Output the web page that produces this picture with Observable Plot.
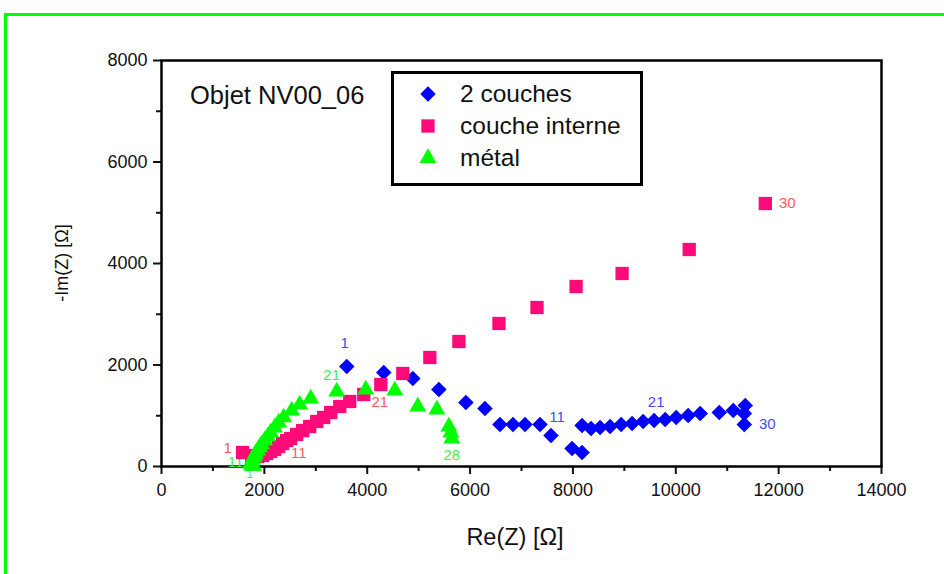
<!DOCTYPE html>
<html>
<head>
<meta charset="utf-8">
<script src="https://cdn.jsdelivr.net/npm/d3@7"></script>
<script src="https://cdn.jsdelivr.net/npm/@observablehq/plot@0.6"></script>
<style>
  html, body { margin: 0; padding: 0; background: #fff; }
  #wrap { position: relative; width: 944px; height: 574px; overflow: hidden; font-family: "Liberation Sans", Arial, sans-serif; }
  #border { position: absolute; left: 4px; top: 13px; width: 1000px; height: 700px; border-top: 3px solid #00ff00; border-left: 3px solid #00ff00; }
  .ann { position: absolute; color: #111; white-space: nowrap; }
  #legend { position: absolute; left: 391px; top: 71px; width: 246px; height: 109px; border: 3px solid #000; background: #fff; }
  .row { position: absolute; left: 0; height: 30px; display: flex; align-items: center; }
  .row svg { margin-left: 23px; margin-right: 21px; }
  .row span { font-size: 24.5px; color: #111; }
</style>
</head>
<body>
<div id="wrap">
  <div id="border"></div>
  <div id="chart"></div>
  <div class="ann" id="objet" style="left:190px; top:81px; font-size:25.5px;">Objet NV00_06</div>
  <div id="legend"></div>
  <div class="ann" id="xtitle" style="left:0; width:1030px; text-align:center; top:524px; font-size:23.5px;">Re(Z) [Ω]</div>
  <div class="ann" id="ytitle" style="left:62px; top:263px; font-size:18px; transform: translate(-50%,-50%) rotate(-90deg);">-Im(Z) [Ω]</div>
</div>
<script>
// ---- data ----
const seriesNames = ["2 couches", "couche interne", "métal"];
const seriesColors = ["#0000ff", "#ff0a78", "#00ff00"];
const labelColors = ["#4a4aff", "#ff5a5a", "#44ee44"];

const blueX = [3602, 4322, 4887, 5393, 5919, 6289, 6581, 6834, 7068, 7360,
               7574, 7983, 8178, 8178, 8353, 8528, 8723, 8937, 9151, 9365,
               9579, 9794, 10008, 10241, 10475, 10845, 11118, 11351, 11332, 11332];
const blueY = [1970, 1852, 1734, 1517, 1261, 1143, 828, 828, 828, 828,
               611, 355, 276, 808, 749, 768, 788, 828, 847, 887,
               906, 926, 966, 1005, 1044, 1064, 1103, 1202, 1044, 828];

const pinkX = [1577, 1752, 1869, 1967, 2044, 2122, 2200, 2278, 2356, 2434,
               2512, 2628, 2745, 2882, 3018, 3154, 3290, 3466, 3660, 3933,
               4264, 4692, 5218, 5783, 6562, 7301, 8061, 8956, 10261, 11741];
const pinkY = [276, 217, 197, 217, 256, 296, 335, 394, 453, 512,
               552, 631, 709, 788, 887, 966, 1064, 1182, 1281, 1419,
               1616, 1833, 2148, 2463, 2818, 3133, 3547, 3803, 4276, 5182];

const greenX = [1791, 1752, 1733, 1752, 1772, 1791, 1811, 1830, 1869, 1908,
                1947, 2005, 2064, 2122, 2200, 2278, 2375, 2531, 2687, 2901,
                3407, 3972, 4537, 4984, 5354, 5588, 5627, 5646];
const greenY = [10, 20, 59, 99, 138, 177, 217, 256, 315, 374,
                433, 512, 591, 670, 768, 867, 966, 1103, 1222, 1340,
                1478, 1517, 1498, 1182, 1123, 788, 670, 552];

const xTicks = [0, 2000, 4000, 6000, 8000, 10000, 12000, 14000];
const xMinor = [1000, 3000, 5000, 7000, 9000, 11000, 13000];
const yTicks = [0, 2000, 4000, 6000, 8000];
const yMinor = [1000, 3000, 5000, 7000];

// ---- build tables ----
const toRows = (xs, ys) => xs.map((x, i) => ({x, y: ys[i], n: i + 1}));
const blue = toRows(blueX, blueY);
const pink = toRows(pinkX, pinkY);
const green = toRows(greenX, greenY);
const pick = (rows, n) => rows.filter(d => d.n === n);

function lbl(rows, n, color, dx, dy, fs = 15) {
  return Plot.text(pick(rows, n), {x: "x", y: "y", text: d => String(d.n), fill: color,
    dx, dy, fontSize: fs, textAnchor: "middle"});
}

const chart = Plot.plot({
  width: 944, height: 574,
  marginLeft: 161, marginRight: 63, marginTop: 60, marginBottom: 108,
  style: {fontFamily: "'Liberation Sans', Arial, sans-serif", background: "transparent", color: "#111"},
  x: {domain: [0, 14000]},
  y: {domain: [0, 8000]},
  marks: [
    Plot.axisX({ticks: xTicks, tickFormat: "d", tickSize: 8, tickPadding: 9, strokeWidth: 2, fontSize: 18, label: null}),
    Plot.axisX({ticks: xMinor, tickFormat: () => "", tickSize: 5, strokeWidth: 2, label: null}),
    Plot.axisY({ticks: yTicks, tickFormat: "d", tickSize: 8, tickPadding: 6, strokeWidth: 2, fontSize: 18, label: null}),
    Plot.axisY({ticks: yMinor, tickFormat: () => "", tickSize: 5, strokeWidth: 2, label: null}),
    Plot.frame({stroke: "#000", strokeWidth: 2.5}),
    lbl(blue, 1, labelColors[0], -2, -23),
    lbl(blue, 11, labelColors[0], 6, -18),
    lbl(blue, 21, labelColors[0], 2, -18),
    lbl(blue, 30, labelColors[0], 23, 0),
    lbl(pink, 1, labelColors[1], -15, -4),
    lbl(pink, 11, labelColors[1], 8, 15),
    lbl(pink, 21, labelColors[1], -1, 18),
    lbl(pink, 30, labelColors[1], 22, 0),
    lbl(green, 1, labelColors[2], -4, 8, 12),
    lbl(green, 11, labelColors[2], -26, 18),
    lbl(green, 21, labelColors[2], -5, -16),
    lbl(green, 28, labelColors[2], 0, 17),
    Plot.dot(blue, {x: "x", y: "y", symbol: "diamond2", r: 7, fill: seriesColors[0]}),
    Plot.dot(pink, {x: "x", y: "y", symbol: "square", r: 7.5, fill: seriesColors[1]}),
    Plot.dot(green, {x: "x", y: "y", symbol: "triangle", r: 6.3, fill: seriesColors[2]})
  ]
});
document.getElementById("chart").appendChild(chart);

// ---- legend ----
const legend = document.getElementById("legend");
const syms = [d3.symbolDiamond2, d3.symbolSquare, d3.symbolTriangle];
const sizes = [7, 7.5, 6.3];
seriesNames.forEach((name, i) => {
  const row = document.createElement("div");
  row.className = "row";
  row.style.top = (5 + i * 32) + "px";
  const svg = d3.create("svg").attr("width", 22).attr("height", 22);
  svg.append("path").attr("transform", "translate(11,11)")
    .attr("d", d3.symbol(syms[i], Math.PI * sizes[i] * sizes[i])())
    .attr("fill", seriesColors[i]);
  row.appendChild(svg.node());
  const sp = document.createElement("span");
  sp.textContent = name;
  row.appendChild(sp);
  legend.appendChild(row);
});
</script>
</body>
</html>
